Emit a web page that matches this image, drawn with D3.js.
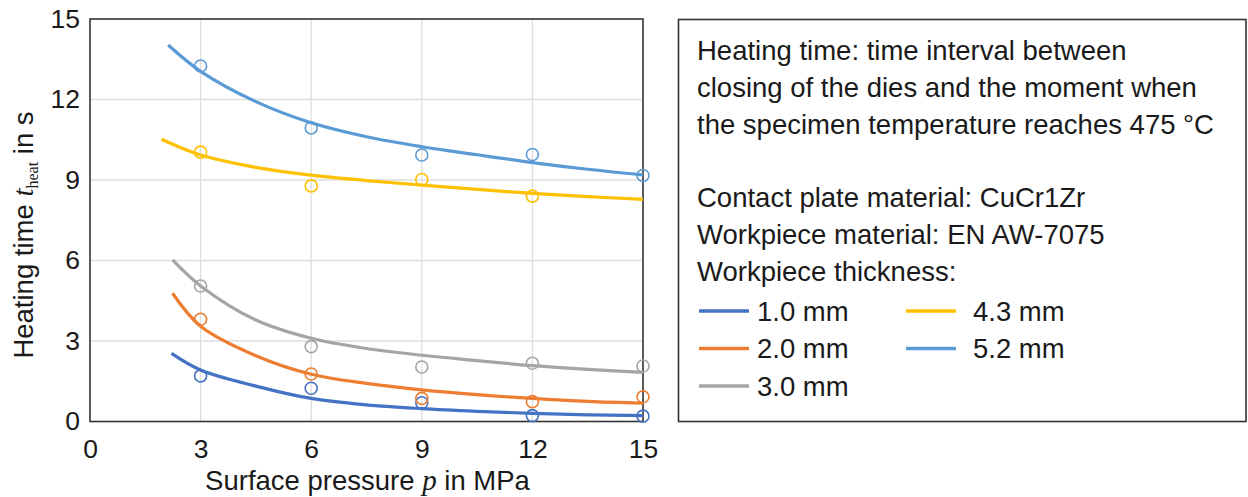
<!DOCTYPE html>
<html lang="en">
<head>
<meta charset="UTF-8">
<title>Heating time</title>
<style>
  body { margin: 0; background: #fff; }
  text { font-family: "Liberation Sans", Arial, sans-serif; fill: #1a1a1a; }
</style>
</head>
<body>
<script src="https://d3js.org/d3.v7.min.js"></script>
<script>
// measured points
var pressure = [3, 6, 9, 12, 15];
var series = ["1.0 mm", "2.0 mm", "3.0 mm", "4.3 mm", "5.2 mm"];
var colors = ["#4472C4", "#ED7D31", "#A5A5A5", "#FFC000", "#5B9BD5"];
var meas10 = [1.70, 1.24, 0.70, 0.22, 0.20];
var meas20 = [3.81, 1.77, 0.86, 0.74, 0.92];
var meas30 = [5.05, 2.79, 2.03, 2.17, 2.07];
var meas43 = [10.04, 8.78, 9.02, 8.40, null];
var meas52 = [13.25, 10.94, 9.93, 9.95, 9.17];

// fitted curves
var fitStart = [2.21, 2.24, 2.24, 1.94, 2.12];
var fitP = [3, 4.5, 6, 7.5, 9, 10.5, 12, 13.5, 15];
var fit10 = [2.54, 1.92, 1.32, 0.86, 0.62, 0.48, 0.38, 0.30, 0.25, 0.22];
var fit20 = [4.78, 3.55, 2.45, 1.76, 1.42, 1.18, 1.00, 0.86, 0.75, 0.68];
var fit30 = [6.02, 5.05, 3.78, 3.10, 2.72, 2.47, 2.27, 2.08, 1.94, 1.83];
var fit43 = [10.52, 9.93, 9.47, 9.18, 8.98, 8.81, 8.65, 8.50, 8.38, 8.28];
var fit52 = [14.03, 13.05, 11.92, 11.13, 10.61, 10.24, 9.94, 9.65, 9.40, 9.19];

var ticks = [0, 3, 6, 9, 12, 15];
var infoLines = ["Heating time: time interval between",
                 "closing of the dies and the moment when",
                 "the specimen temperature reaches 475 °C",
                 "",
                 "Contact plate material: CuCr1Zr",
                 "Workpiece material: EN AW-7075",
                 "Workpiece thickness:"];

var width = 1248, height = 497;
var plot = {left: 90, right: 643, top: 19, bottom: 421.5};

var svg = d3.select("body").append("svg")
    .attr("width", width).attr("height", height);

var x = d3.scaleLinear().domain([0, 15]).range([plot.left, plot.right]);
var y = d3.scaleLinear().domain([0, 15]).range([plot.bottom, plot.top]);

// grid
svg.append("g").selectAll("line").data(ticks.slice(1, 5)).enter().append("line")
    .attr("x1", function(d){ return x(d); }).attr("x2", function(d){ return x(d); })
    .attr("y1", plot.top).attr("y2", plot.bottom)
    .attr("stroke", "#dedede").attr("stroke-width", 1.3);
svg.append("g").selectAll("line").data(ticks.slice(1, 5)).enter().append("line")
    .attr("y1", function(d){ return y(d); }).attr("y2", function(d){ return y(d); })
    .attr("x1", plot.left).attr("x2", plot.right)
    .attr("stroke", "#dedede").attr("stroke-width", 1.3);

// axes
var xAxis = svg.append("g").attr("transform", "translate(0," + plot.bottom + ")")
    .call(d3.axisBottom(x).tickValues(ticks).tickSize(0).tickPadding(18));
var yAxis = svg.append("g").attr("transform", "translate(" + plot.left + ",0)")
    .call(d3.axisLeft(y).tickValues(ticks).tickSize(0).tickPadding(10));
svg.selectAll(".domain").remove();
svg.selectAll(".tick text").attr("font-size", 26.5)
    .attr("font-family", "Liberation Sans, Arial, sans-serif").attr("fill", "#1a1a1a");

svg.append("rect")
    .attr("x", plot.left).attr("y", plot.top)
    .attr("width", plot.right - plot.left).attr("height", plot.bottom - plot.top)
    .attr("fill", "none").attr("stroke", "#333").attr("stroke-width", 1.6);

// curves
var fits = [fit10, fit20, fit30, fit43, fit52];
var meas = [meas10, meas20, meas30, meas43, meas52];
var line = d3.line()
    .x(function(d){ return x(d[0]); })
    .y(function(d){ return y(d[1]); })
    .curve(d3.curveCatmullRom.alpha(0.5));

fits.forEach(function(f, i) {
  var ps = [fitStart[i]].concat(fitP);
  var pts = ps.map(function(p, j){ return [p, f[j]]; });
  svg.append("path").datum(pts)
    .attr("d", line)
    .attr("fill", "none")
    .attr("stroke", colors[i])
    .attr("stroke-width", 3.2)
    .attr("stroke-linecap", "butt");
});

meas.forEach(function(m, i) {
  var pts = pressure.map(function(p, j){ return [p, m[j]]; })
    .filter(function(d){ return d[1] != null; });
  svg.append("g").selectAll("circle").data(pts).enter().append("circle")
    .attr("cx", function(d){ return x(d[0]); })
    .attr("cy", function(d){ return y(d[1]); })
    .attr("r", 6)
    .attr("fill", "none")
    .attr("stroke", colors[i])
    .attr("stroke-width", 1.6);
});

// axis titles
var xt = svg.append("text")
    .attr("x", (plot.left + plot.right) / 2 + 1).attr("y", 490)
    .attr("text-anchor", "middle").attr("font-size", 27.5);
xt.append("tspan").text("Surface pressure ");
xt.append("tspan").text("p").attr("font-family", "Liberation Serif, Times New Roman, serif")
    .attr("font-style", "italic").attr("font-size", 29);
xt.append("tspan").text(" in MPa");

var yt = svg.append("text")
    .attr("transform", "translate(33,235) rotate(-90)")
    .attr("text-anchor", "middle").attr("font-size", 27.5);
yt.append("tspan").text("Heating time ");
yt.append("tspan").text("t").attr("font-family", "Liberation Serif, Times New Roman, serif")
    .attr("font-style", "italic").attr("font-size", 29);
yt.append("tspan").text("heat").attr("font-family", "Liberation Serif, Times New Roman, serif")
    .attr("font-size", 16).attr("dy", 5);
yt.append("tspan").text(" in s").attr("dy", -5);

// info box
svg.append("rect")
    .attr("x", 678.5).attr("y", 19.5).attr("width", 567.5).attr("height", 402)
    .attr("fill", "none").attr("stroke", "#333").attr("stroke-width", 1.6);

svg.append("g").selectAll("text").data(infoLines).enter().append("text")
    .attr("x", 697)
    .attr("y", function(d, i){ return 60 + i * 36.8; })
    .attr("font-size", 27.5)
    .text(function(d){ return d; });

var legX = [699, 906], legY = [311, 348.5, 386];
series.forEach(function(s, i) {
  var col = i < 3 ? 0 : 1, row = i < 3 ? i : i - 3;
  var g = svg.append("g");
  g.append("line")
    .attr("x1", legX[col]).attr("x2", legX[col] + 50)
    .attr("y1", legY[row]).attr("y2", legY[row])
    .attr("stroke", colors[i]).attr("stroke-width", 3.5);
  g.append("text")
    .attr("x", legX[col] + (col == 0 ? 58 : 67))
    .attr("y", legY[row] + 9.9)
    .attr("font-size", 27.5)
    .text(s);
});
</script>
</body>
</html>
